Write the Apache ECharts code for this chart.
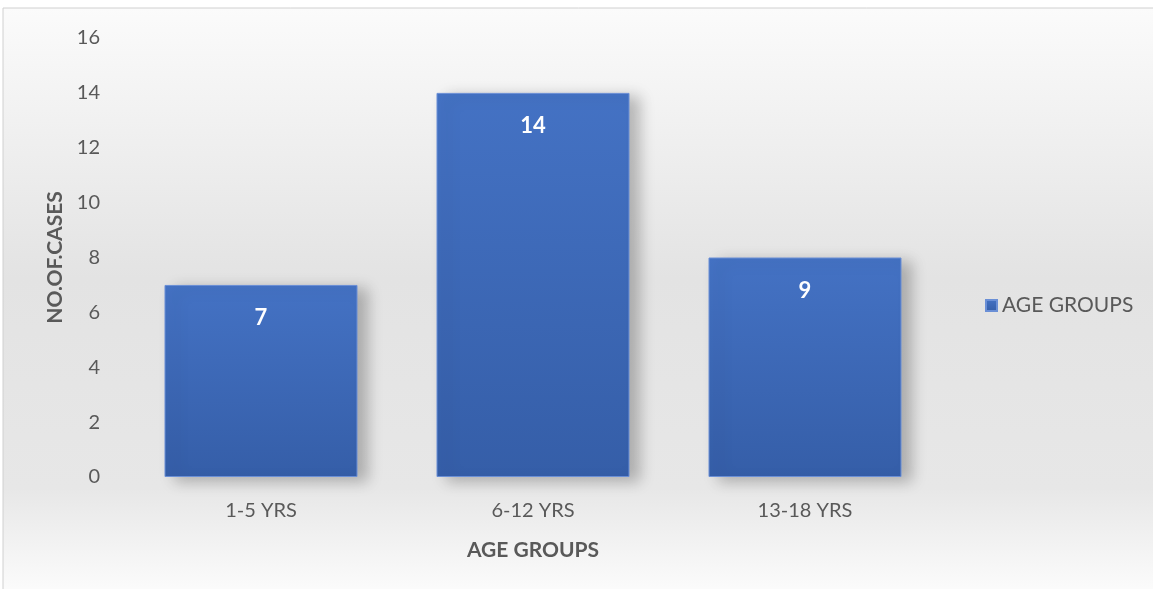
<!DOCTYPE html>
<html>
<head>
<meta charset="utf-8">
<script src="https://cdn.jsdelivr.net/npm/echarts@6/dist/echarts.min.js"></script>
<style>html,body{margin:0;padding:0;background:#fff}#c{width:1153px;height:589px}</style>
</head>
<body>
<div id="c"></div>
<script>
var categories = ['1-5 YRS', '6-12 YRS', '13-18 YRS'];
var values = [7, 14, 8];
var barLabels = ['7', '14', '9'];
var seriesName = 'AGE GROUPS';
var xAxisTitle = 'AGE GROUPS';
var yAxisTitle = 'NO.OF.CASES';

var FONT = 'Lato, "Open Sans", sans-serif';
var chart = echarts.init(document.getElementById('c'));
chart.setOption({
  animation: false,
  graphic: [
    {type: 'rect', z: -100, silent: true,
     shape: {x: 3, y: 8, width: 1160, height: 600},
     style: {
       fill: new echarts.graphic.LinearGradient(0, 0, 0, 1, [
         {offset: 0, color: '#fbfbfb'},
         {offset: 0.45, color: '#e3e3e3'},
         {offset: 0.8, color: '#e7e7e7'},
         {offset: 1, color: '#ffffff'}
       ]),
       stroke: '#d0d0d0', lineWidth: 1
     }}
  ],
  grid: {left: 125, right: 212, top: 38, bottom: 112, containLabel: false},
  legend: {
    left: 980, top: 290, orient: 'vertical',
    icon: 'rect', itemWidth: 11, itemHeight: 11, itemGap: 3,
    textStyle: {color: '#595959', fontSize: 21, fontFamily: FONT},
    data: [seriesName]
  },
  xAxis: {
    type: 'category', data: categories,
    axisLine: {show: false}, axisTick: {show: false},
    axisLabel: {color: '#595959', fontSize: 20, fontFamily: FONT, margin: 24},
    name: xAxisTitle, nameLocation: 'middle', nameGap: 63,
    nameTextStyle: {color: '#595959', fontSize: 21, fontWeight: 'bold', fontFamily: FONT}
  },
  yAxis: {
    type: 'value', min: 0, max: 16, interval: 2,
    axisLine: {show: false}, axisTick: {show: false},
    splitLine: {show: false},
    axisLabel: {color: '#595959', fontSize: 20, fontFamily: FONT, margin: 25},
    name: yAxisTitle, nameLocation: 'middle', nameGap: 58, nameRotate: 90,
    nameTextStyle: {color: '#595959', fontSize: 21, fontWeight: 'bold', fontFamily: FONT}
  },
  series: [{
    name: seriesName, type: 'bar', barWidth: 193,
    data: values,
    itemStyle: {
      color: new echarts.graphic.LinearGradient(0, 0, 0, 1, [
        {offset: 0, color: '#4472c4'},
        {offset: 1, color: '#355ea8'}
      ]),
      borderColor: '#6a8fd6', borderWidth: 1,
      shadowColor: 'rgba(0,0,0,0.25)', shadowBlur: 14, shadowOffsetX: 10, shadowOffsetY: 4
    },
    label: {
      show: true, position: 'insideTop', distance: 22,
      color: '#ffffff', fontSize: 22, fontWeight: 'bold', fontFamily: FONT,
      formatter: function (p) { return barLabels[p.dataIndex]; }
    }
  }]
});
</script>
</body>
</html>
